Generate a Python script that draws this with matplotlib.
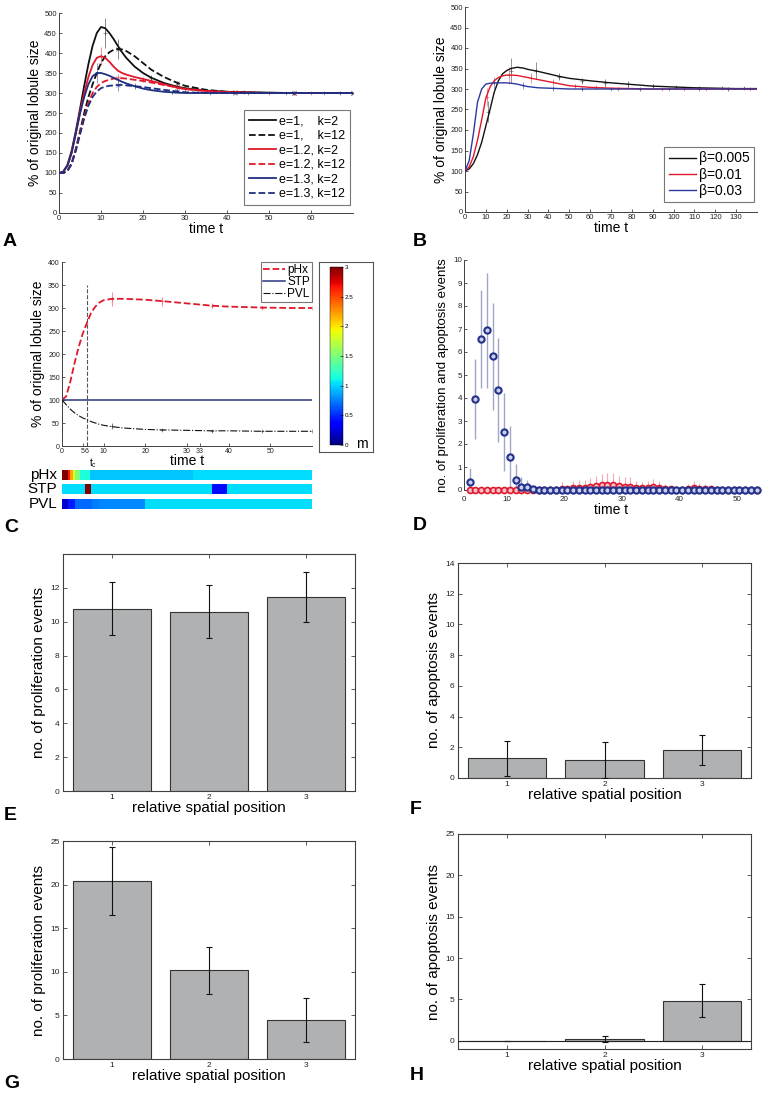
import numpy as np
import matplotlib
matplotlib.use("Agg")
import matplotlib.pyplot as plt
from matplotlib.colors import Normalize
from matplotlib.colorbar import ColorbarBase
import matplotlib.transforms as mtransforms

plt.rcParams['font.family'] = ['Liberation Sans', 'DejaVu Sans']

# ---------------- data: panel A ----------------
tA = [0, 1, 2, 3, 4, 5, 6, 7, 8, 9, 10, 11, 12, 13, 14, 15, 16, 18, 20, 22, 25, 28, 30, 35, 40, 45, 50, 55, 60, 65, 70]
A_e1_k2 = [100, 103, 120, 155, 205, 260, 318, 372, 418, 450, 465, 462, 450, 435, 418, 402, 388, 366, 350, 338, 325, 316, 312, 306, 303, 302, 301, 300, 300, 300, 300]
A_e1_k12 = [100, 100, 105, 125, 160, 205, 250, 290, 322, 350, 375, 392, 402, 408, 410, 409, 405, 392, 375, 358, 340, 326, 318, 308, 303, 301, 300, 300, 300, 300, 300]
A_e12_k2 = [100, 103, 118, 150, 200, 252, 300, 340, 370, 388, 392, 388, 378, 366, 356, 350, 346, 340, 335, 330, 322, 314, 310, 305, 302, 301, 300, 300, 300, 300, 300]
A_e12_k12 = [100, 100, 105, 122, 158, 200, 240, 275, 300, 315, 325, 330, 333, 336, 337, 337, 336, 333, 330, 326, 320, 314, 310, 305, 302, 301, 300, 300, 300, 300, 300]
A_e13_k2 = [100, 103, 118, 150, 198, 248, 290, 322, 342, 350, 350, 347, 343, 338, 333, 328, 324, 317, 311, 307, 303, 301, 300, 300, 300, 300, 300, 300, 300, 300, 300]
A_e13_k12 = [100, 100, 105, 122, 155, 196, 236, 268, 290, 304, 312, 316, 318, 319, 320, 320, 319, 317, 315, 312, 308, 304, 302, 300, 300, 300, 300, 300, 300, 300, 300]
A_labels = ['e=1,    k=2', 'e=1,    k=12', 'e=1.2, k=2', 'e=1.2, k=12', 'e=1.3, k=2', 'e=1.3, k=12']
# error bar samples (t, value, err)
A_err_t = [[11, 22, 33, 44, 56, 67], [14, 28, 42, 56, 70], [10, 20, 30, 40, 50, 60],
           [14, 28, 42, 56, 70], [9, 18, 27, 36, 45, 54, 63], [14, 28, 42, 56, 70]]
A_err_v = [[450, 337, 308, 302, 301, 300], [410, 324, 303, 300, 300], [392, 333, 310, 302, 300, 300],
           [337, 316, 303, 300, 300], [350, 318, 302, 300, 300, 300, 300], [320, 305, 300, 300, 300]]
A_err_e = [[38, 8, 4, 3, 3, 2], [25, 6, 3, 3, 2], [22, 6, 4, 3, 2, 2],
           [10, 8, 3, 2, 2], [25, 8, 4, 3, 2, 2, 2], [15, 4, 3, 2, 2]]

# ---------------- data: panel B ----------------
tB = [0, 2, 4, 6, 8, 10, 12, 14, 16, 18, 20, 22, 25, 28, 30, 35, 40, 45, 50, 60, 70, 80, 90, 100, 110, 120, 130, 140]
B_b005 = [100, 105, 118, 140, 170, 210, 250, 292, 320, 337, 345, 350, 353, 351, 348, 343, 337, 331, 326, 320, 315, 311, 307, 305, 303, 302, 301, 301]
B_b01 = [100, 110, 135, 175, 225, 278, 305, 320, 328, 332, 334, 334, 333, 330, 328, 323, 318, 313, 308, 304, 302, 301, 300, 300, 300, 300, 300, 300]
B_b03 = [100, 125, 190, 268, 300, 312, 314, 315, 315, 315, 315, 314, 312, 308, 306, 303, 302, 301, 300, 300, 300, 300, 300, 300, 300, 300, 300, 300]
B_labels = ['\u03b2=0.005', '\u03b2=0.01', '\u03b2=0.03']
B_err_t = [[11, 22, 34, 45, 56, 67, 78, 90, 101, 112, 123, 134],
           [10.5, 21, 31.5, 42, 52.5, 63, 73.5, 84, 94.5, 105, 115.5, 126, 136.5],
           [14, 28, 42, 56, 70, 84, 98, 112, 126]]
B_err_v = [[245, 345, 345, 330, 320, 315, 311, 307, 304, 303, 302, 302],
           [280, 333, 327, 317, 308, 304, 301, 300, 300, 300, 300, 300, 300],
           [315, 309, 302, 300, 300, 300, 300, 300, 300]]
B_err_e = [[25, 30, 20, 8, 8, 10, 8, 5, 4, 3, 3, 3],
           [22, 20, 12, 8, 5, 4, 3, 3, 2, 2, 2, 2, 2],
           [15, 8, 6, 4, 3, 3, 3, 2, 2]]

# ---------------- data: panel C ----------------
tC = [0, 1, 2, 3, 4, 5, 6, 7, 8, 9, 10, 12, 15, 20, 24, 30, 36, 40, 48, 55, 60]
C_pHx = [100, 108, 140, 180, 215, 245, 268, 290, 303, 312, 317, 320, 320, 318, 315, 310, 305, 303, 301, 300, 300]
C_STP = [100] * len(tC)
C_PVL = [100, 90, 80, 72, 66, 61, 57, 53, 50, 47, 45, 42, 39, 36, 35, 34, 33, 33, 32, 32, 32]
C_err_t = [12, 24, 36, 48, 60]
C_pHx_err_v = [320, 315, 305, 301, 300]
C_pHx_err_e = [15, 10, 5, 3, 3]
C_PVL_err_v = [43, 35, 33, 32, 32]
C_PVL_err_e = [7, 3, 2, 2, 2]
t_c = 6
C_xticks = [0, 5, 6, 10, 20, 30, 33, 40, 50]
# heat strips (time edges, value m per segment)
pHx_edges = [0, 1.4, 2.0, 2.6, 3.2, 4.2, 6.6, 31.5, 60]
pHx_m = [3.0, 2.65, 2.2, 1.85, 1.5, 1.15, 0.96, 1.02]
STP_edges = [0, 5.6, 7.0, 35.9, 39.5, 60]
STP_m = [1.02, 3.0, 1.02, 0.4, 1.02]
PVL_edges = [0, 1.4, 3.1, 7.2, 8.8, 20, 60]
PVL_m = [0.2, 0.45, 0.68, 0.74, 0.78, 1.02]

# ---------------- data: panel D ----------------
tD = list(np.arange(3.5, 54.0, 1.0))
D_prolif = [0.35, 3.95, 6.57, 6.95, 5.82, 4.35, 2.52, 1.43, 0.45, 0.15, 0.12, 0.03, 0.02, 0.02, 0.01] + [0.0] * 36
D_prolif_err = [0.6, 1.75, 2.13, 2.5, 2.33, 2.25, 1.68, 1.37, 0.7, 0.4, 0.33, 0.1, 0.05, 0.05, 0.03] + [0.0] * 36
D_apop = [0.0] * 16 + [0.05, 0.03, 0.08, 0.1, 0.1, 0.12, 0.18, 0.2, 0.2, 0.22, 0.18, 0.15, 0.12, 0.1, 0.08,
                       0.1, 0.12, 0.08, 0.05, 0.03, 0.02, 0.02, 0.05, 0.08, 0.05, 0.05, 0.03] + [0.0] * 8
D_apop_err = [0.0] * 16 + [0.3, 0.2, 0.3, 0.35, 0.35, 0.4, 0.45, 0.5, 0.55, 0.5, 0.45, 0.4, 0.45, 0.3, 0.25,
                           0.3, 0.35, 0.3, 0.2, 0.15, 0.1, 0.1, 0.2, 0.3, 0.25, 0.2, 0.2] + [0.0] * 8

# ---------------- data: panels E-H ----------------
positions = [1, 2, 3]
E_vals = [10.78, 10.6, 11.45]
E_err = [1.54, 1.57, 1.48]
F_vals = [1.27, 1.2, 1.82]
F_err = [1.17, 1.17, 0.99]
G_vals = [20.4, 10.15, 4.5]
G_err = [3.9, 2.65, 2.5]
H_vals = [0.0, 0.2, 4.85]
H_err = [0.0, 0.4, 2.0]

# ---------------- layout ----------------
W, H = 764, 1094
fig = plt.figure(figsize=(W / 100, H / 100), dpi=100)


def ax_px(x0, y0, x1, y1, **kw):
    return fig.add_axes([x0 / W, 1 - y1 / H, (x1 - x0) / W, (y1 - y0) / H], **kw)


def ftext(x, y, s, **kw):
    fig.text(x / W, 1 - y / H, s, **kw)


SP = '#404040'


def style_open(ax, fs=5.5):
    for s in ['top', 'right']:
        ax.spines[s].set_visible(False)
    for s in ['left', 'bottom']:
        ax.spines[s].set_color(SP)
        ax.spines[s].set_linewidth(0.7)
    ax.tick_params(direction='in', length=2.5, width=0.6, color=SP, labelsize=fs,
                   labelcolor='#222222', pad=1.5)


def style_box(ax, fs=6):
    for s in ax.spines.values():
        s.set_color(SP)
        s.set_linewidth(0.8)
    ax.tick_params(direction='in', length=3, width=0.6, color=SP, labelsize=fs,
                   labelcolor='#222222', top=True, right=True, pad=2.5)


BLACK = '#111111'
RED = '#e0182b'
BLUE = '#1f2f80'

# ---------------- Panel A ----------------
axA = ax_px(59, 13, 353, 213)
seriesA = [A_e1_k2, A_e1_k12, A_e12_k2, A_e12_k12, A_e13_k2, A_e13_k12]
colsA = [BLACK, BLACK, RED, RED, BLUE, BLUE]
lsA = ['-', '--', '-', '--', '-', '--']
mkA = ['+', 'x', '+', 'x', '+', 'x']
for i, ys in enumerate(seriesA):
    axA.errorbar(A_err_t[i], A_err_v[i], yerr=A_err_e[i], fmt=mkA[i], color=colsA[i],
                 alpha=0.5, ms=3, mew=0.6, elinewidth=0.7, capsize=0, zorder=2)
for i, ys in enumerate(seriesA):
    axA.plot(tA, ys, ls=lsA[i], color=colsA[i], lw=1.3, label=A_labels[i], zorder=3)
axA.set_xlim(0, 70)
axA.set_ylim(0, 500)
axA.set_xticks(range(0, 61, 10))
axA.set_yticks(range(0, 501, 50))
style_open(axA)
axA.set_xlabel('time t', fontsize=10, labelpad=0)
axA.set_ylabel('% of original lobule size', fontsize=10, labelpad=2)
legA = axA.legend(loc='lower right', bbox_to_anchor=(0.99, 0.04), fontsize=9, frameon=True,
                  fancybox=False, edgecolor='#555555', handlelength=2.2, borderpad=0.4,
                  labelspacing=0.2, handletextpad=0.2, borderaxespad=0)
legA.get_frame().set_linewidth(0.8)

# ---------------- Panel B ----------------
axB = ax_px(465, 7, 757, 212)
seriesB = [B_b005, B_b01, B_b03]
colsB = [BLACK, RED, '#2a3aa0']
for i, ys in enumerate(seriesB):
    axB.errorbar(B_err_t[i], B_err_v[i], yerr=B_err_e[i], fmt='+', color=colsB[i],
                 alpha=0.45, ms=3, mew=0.6, elinewidth=0.7, capsize=0, zorder=2)
for i, ys in enumerate(seriesB):
    axB.plot(tB, ys, '-', color=colsB[i], lw=1.0, label=B_labels[i], zorder=3)
axB.set_xlim(0, 140)
axB.set_ylim(0, 500)
axB.set_xticks(range(0, 131, 10))
axB.set_yticks(range(0, 501, 50))
style_open(axB)
axB.set_xlabel('time t', fontsize=10, labelpad=0)
axB.set_ylabel('% of original lobule size', fontsize=10, labelpad=2)
legB = axB.legend(loc='lower right', bbox_to_anchor=(0.99, 0.05), fontsize=10, frameon=True,
                  fancybox=False, edgecolor='#555555', handlelength=2.0, borderpad=0.3,
                  labelspacing=0.15, handletextpad=0.2, borderaxespad=0)
legB.get_frame().set_linewidth(0.8)

# ---------------- Panel C ----------------
axC = ax_px(62, 262, 312, 446)
axC.errorbar(C_err_t, C_pHx_err_v, yerr=C_pHx_err_e, fmt='+', color=RED, alpha=0.45,
             ms=3, mew=0.6, elinewidth=0.8, capsize=0, zorder=2)
axC.errorbar(C_err_t, C_PVL_err_v, yerr=C_PVL_err_e, fmt='+', color=BLACK, alpha=0.45,
             ms=3, mew=0.6, elinewidth=0.8, capsize=0, zorder=2)
axC.plot(tC, C_pHx, '--', color=RED, lw=1.3, label='pHx', zorder=3)
axC.plot(tC, C_STP, '-', color='#2a3580', lw=1.1, label='STP', zorder=3)
axC.plot(tC, C_PVL, '-.', color=BLACK, lw=0.8, label='PVL', zorder=3)
axC.plot([t_c, t_c], [0, 350], '--', color='#555555', lw=0.8, zorder=1)
axC.set_xlim(0, 60)
axC.set_ylim(0, 400)
axC.set_xticks(C_xticks)
axC.set_yticks(range(0, 401, 50))
style_open(axC, fs=5)
axC.set_xlabel('time t', fontsize=10, labelpad=-1)
axC.set_ylabel('% of original lobule size', fontsize=10, labelpad=2)
trC = mtransforms.blended_transform_factory(axC.transData, axC.transAxes)
axC.text(t_c + 1.5, -0.055, r'$\mathregular{t_c}$', transform=trC, fontsize=7, ha='center', va='top')
legC = axC.legend(loc='upper right', bbox_to_anchor=(1.0, 1.0), fontsize=8.5, frameon=True,
                  fancybox=False, edgecolor='#555555', handlelength=1.9, borderpad=0.15,
                  labelspacing=0.0, handletextpad=0.2, borderaxespad=0)
legC.get_frame().set_linewidth(0.8)

# colorbar with frame
axFrame = ax_px(319, 262, 373, 452)
axFrame.set_xticks([])
axFrame.set_yticks([])
for s in axFrame.spines.values():
    s.set_color('#555555')
    s.set_linewidth(0.8)
cax = ax_px(330, 267, 343, 445)
norm = Normalize(0, 3)
cb = ColorbarBase(cax, cmap='jet', norm=norm, ticks=[0, 0.5, 1, 1.5, 2, 2.5, 3])
cb.set_ticklabels(['0', '0.5', '1', '1.5', '2', '2.5', '3'])
cb.outline.set_linewidth(0.3)
cax.tick_params(labelsize=4.5, direction='in', length=2, width=0.4, pad=1)
ftext(362, 444, 'm', fontsize=10, ha='center', va='center')

# strips
strip_rows = [('pHx', pHx_edges, pHx_m, 470, 480), ('STP', STP_edges, STP_m, 484, 494),
              ('PVL', PVL_edges, PVL_m, 499, 509)]
for name, edges, vals, y0, y1 in strip_rows:
    axs = ax_px(62, y0, 312, y1)
    axs.pcolormesh(edges, [0, 1], np.array([vals]), cmap='jet', norm=norm, shading='flat')
    axs.set_xlim(0, 60)
    axs.set_ylim(0, 1)
    axs.set_axis_off()
    axs.text(-0.02, 0.5, name, transform=axs.transAxes, ha='right', va='center', fontsize=11)

# ---------------- Panel D ----------------
axD = ax_px(464, 260, 759, 490)
axD.errorbar(tD, D_apop, yerr=D_apop_err, fmt='none', ecolor='#f08090', elinewidth=0.8, alpha=0.7, zorder=2)
axD.errorbar(tD, D_prolif, yerr=D_prolif_err, fmt='none', ecolor='#8890bb', elinewidth=1.0, alpha=0.8, zorder=2)
axD.plot(tD, D_apop, 'o', ms=4.3, mfc='#f6c0c8', mec='#e0182b', mew=1.2, ls='none', zorder=3, clip_on=False)
axD.plot(tD, D_prolif, 'o', ms=4.5, mfc='#c8d0ee', mec='#24318a', mew=1.5, ls='none', zorder=4, clip_on=False)
axD.set_xlim(2.5, 53.9)
axD.set_ylim(0, 10)
axD.set_xticks([2.5, 10, 20, 30, 40, 50])
axD.set_xticklabels(['0', '10', '20', '30', '40', '50'])
axD.set_yticks(range(0, 11))
style_open(axD, fs=5.8)
axD.tick_params(axis='x', pad=4)
axD.set_xlabel('time t', fontsize=10, labelpad=0)
axD.set_ylabel('no. of proliferation and apoptosis events', fontsize=9.5, labelpad=3)

# ---------------- Panels E-H ----------------
BAR_FC = '#b0b1b2'
BAR_EC = '#333333'


def bar_panel(box, vals, errs, ylim, yticks, ylabel, baseline=False):
    ax = ax_px(*box)
    ax.bar(positions, vals, width=0.8, color=BAR_FC, edgecolor=BAR_EC, linewidth=0.8, zorder=2)
    ax.errorbar(positions, vals, yerr=errs, fmt='none', ecolor='#111111', elinewidth=0.8,
                capsize=2, capthick=0.8, zorder=3)
    if baseline:
        ax.axhline(0, color='#222222', lw=0.8, zorder=4)
    ax.set_xlim(0.5, 3.5)
    ax.set_ylim(*ylim)
    ax.set_xticks(positions)
    ax.set_yticks(yticks)
    style_box(ax)
    ax.set_xlabel('relative spatial position', fontsize=11, labelpad=0)
    ax.set_ylabel(ylabel, fontsize=11, labelpad=3)
    return ax


bar_panel((63, 554, 355, 791), E_vals, E_err, (0, 14), range(0, 13, 2), 'no. of proliferation events')
bar_panel((458, 563, 751, 778), F_vals, F_err, (0, 14), range(0, 15, 2), 'no. of apoptosis events')
bar_panel((63, 841, 355, 1059), G_vals, G_err, (0, 25), range(0, 26, 5), 'no. of proliferation events')
bar_panel((458, 834, 751, 1049), H_vals, H_err, (-1, 25), range(0, 26, 5), 'no. of apoptosis events', baseline=True)

# ---------------- panel letters ----------------
for letter, x, y in [('A', 3, 242), ('B', 413, 242), ('C', 4, 527), ('D', 413, 526),
                     ('E', 4, 815), ('F', 410, 810), ('G', 4, 1084), ('H', 410, 1075)]:
    ftext(x, y, letter, fontsize=14, fontweight='bold', ha='left', va='center')

fig.savefig('out.png', dpi=100, facecolor='white')
